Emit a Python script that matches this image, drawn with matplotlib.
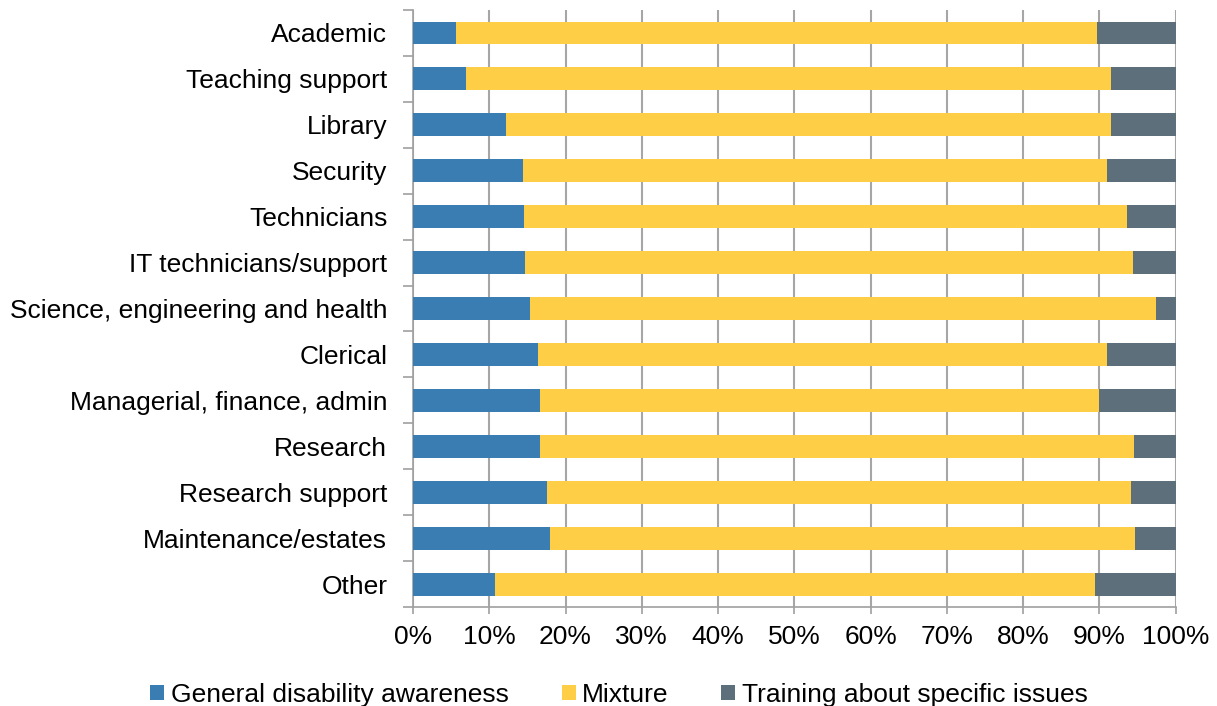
import matplotlib
matplotlib.use("Agg")
import matplotlib.pyplot as plt
import numpy as np
from matplotlib.ticker import FixedLocator, PercentFormatter

categories = ["Academic", "Teaching support", "Library", "Security", "Technicians",
              "IT technicians/support", "Science, engineering and health", "Clerical",
              "Managerial, finance, admin", "Research", "Research support",
              "Maintenance/estates", "Other"]
general = [5.6, 7.0, 12.2, 14.4, 14.6, 14.7, 15.4, 16.4, 16.7, 16.6, 17.6, 17.9, 10.7]
mixture_end = [89.7, 91.5, 91.5, 91.0, 93.7, 94.4, 97.4, 91.0, 90.0, 94.5, 94.2, 94.7, 89.4]
mixture = [m - g for m, g in zip(mixture_end, general)]
specific = [100 - m for m in mixture_end]
series_names = ["General disability awareness", "Mixture", "Training about specific issues"]
colors = ["#3a7db2", "#fecf46", "#5c6f7b"]
xticks = list(range(0, 101, 10))

plt.rcParams['font.family'] = ['Liberation Sans', 'DejaVu Sans']
fig = plt.figure(figsize=(12.17, 7.06), dpi=100)
ax = fig.add_axes([0.3394, 0.1402, 0.6265, 0.8456])

y = np.arange(len(categories))
h = 0.5
ax.barh(y, general, height=h, color=colors[0], label=series_names[0], zorder=3)
ax.barh(y, mixture, left=general, height=h, color=colors[1], label=series_names[1], zorder=3)
left2 = [g + m for g, m in zip(general, mixture)]
ax.barh(y, specific, left=left2, height=h, color=colors[2], label=series_names[2], zorder=3)

ax.set_ylim(len(categories) - 0.5, -0.5)
ax.set_xlim(0, 100)
ax.set_yticks(y)
ax.set_yticklabels(categories, fontsize=19)
ax.yaxis.set_minor_locator(FixedLocator(np.arange(-0.5, len(categories), 1)))
ax.tick_params(axis='y', which='major', length=0, pad=18.5)
ax.tick_params(axis='y', which='minor', length=7, color='#a0a0a0', width=1.2)
ax.set_xticks(xticks)
ax.xaxis.set_major_formatter(PercentFormatter(decimals=0))
ax.tick_params(axis='x', which='major', length=5, color='#a0a0a0', width=1.2, labelsize=19, pad=8)

ax.grid(axis='x', color='#a6a6a6', linewidth=1.5, zorder=0)
for s in ['top', 'right']:
    ax.spines[s].set_visible(False)
for s in ['left', 'bottom']:
    ax.spines[s].set_color('#a0a0a0')
    ax.spines[s].set_linewidth(1.2)

leg = fig.legend(loc='center', bbox_to_anchor=(0.5087, 0.016), ncol=3, frameon=False,
                 fontsize=19, handlelength=0.53, handleheight=0.53, handletextpad=0.25,
                 columnspacing=2.0, borderpad=0)

fig.savefig("out.png", dpi=100)
